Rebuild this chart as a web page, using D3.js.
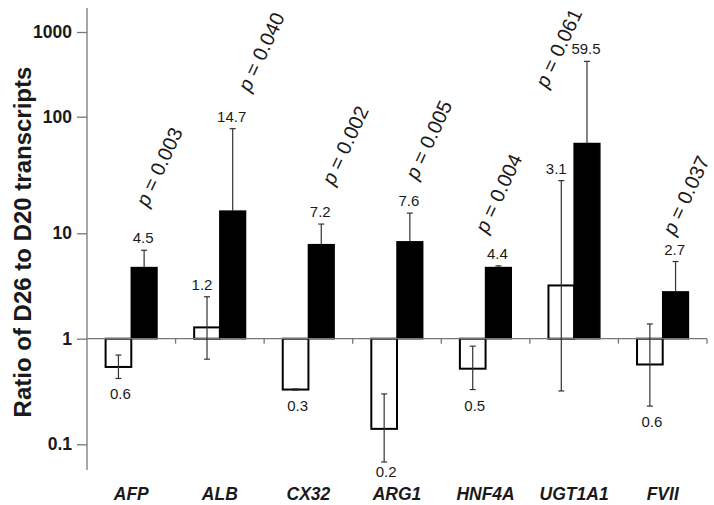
<!DOCTYPE html>
<html><head><meta charset="utf-8">
<script src="https://cdn.jsdelivr.net/npm/d3@7"></script>
<style>body{margin:0;background:#fff}svg{display:block}</style>
</head><body><svg id="c" width="714" height="505"></svg>
<script>
// ---- data ----
const categories = ["AFP", "ALB", "CX32", "ARG1", "HNF4A", "UGT1A1", "FVII"];
const whiteValues = [0.54, 1.28, 0.33, 0.14, 0.52, 3.2, 0.57];
const whiteErrLow = [0.42, 0.64, 0.325, 0.068, 0.33, 0.32, 0.23];
const whiteErrHigh = [0.70, 2.5, 0.335, 0.30, 0.85, 28.3, 1.38];
const whiteLabels = ["0.6", "1.2", "0.3", "0.2", "0.5", "3.1", "0.6"];
const blackValues = [4.73, 15.5, 7.8, 8.3, 4.73, 58.9, 2.78];
const blackErrHigh = [6.9, 79, 12.0, 14.9, 4.91, 450, 5.4];
const blackLabels = ["4.5", "14.7", "7.2", "7.6", "4.4", "59.5", "2.7"];
const pValues = ["0.003", "0.040", "0.002", "0.005", "0.004", "0.061", "0.037"];
const yTicks = [0.1, 1, 10, 100, 1000];
const yTitle = "Ratio of D26 to D20 transcripts";

// ---- layout (not data) ----
const pLabelShift = [[3.6, -35.5], [17.1, -28.8], [12.4, -30.7], [7.4, -25.3], [-11.3, -24.7], [-39.8, 34.7], [-1, -18.3]];

const svg = d3.select("#c");
const left = 87, right = 707;
const x = d3.scaleBand().domain(categories).range([left, right]).paddingInner(0).paddingOuter(0);
// original axis has uneven decade spacing -> polylinear log scale
const y = d3.scaleLog().domain([0.1, 1, 10, 100, 1000]).range([444.3, 338.7, 233.3, 116.7, 32]);
const bw = x.bandwidth() * 0.29;
const cx = c => x(c) + x.bandwidth() / 2;
const base = y(1);

const rows = categories.map((c, i) => ({
  c, i, w: whiteValues[i], wl: whiteErrLow[i], wh: whiteErrHigh[i], wLab: whiteLabels[i],
  b: blackValues[i], bh: blackErrHigh[i], bLab: blackLabels[i], p: pValues[i]
}));

const font = "Arial, 'Liberation Sans', sans-serif";

// y axis
const yAxis = d3.axisLeft(y).tickValues(yTicks).tickSize(10).tickPadding(5).tickFormat(d => String(d));
const gy = svg.append("g").attr("transform", `translate(${left},0)`).call(yAxis);
gy.select(".domain").remove();
gy.selectAll(".tick line").attr("stroke", "#777").attr("stroke-width", 1.3);
gy.selectAll(".tick text").attr("font-family", font)
  .attr("font-size", 17.5).attr("font-weight", "bold").attr("fill", "#1a1a1a");
svg.append("line").attr("x1", left).attr("x2", left).attr("y1", 8).attr("y2", 470)
  .attr("stroke", "#777").attr("stroke-width", 1.3);

// bars
const g = svg.append("g");
g.selectAll("rect.white").data(rows).join("rect").attr("class", "white")
  .attr("x", d => cx(d.c) - bw).attr("width", bw)
  .attr("y", d => Math.min(y(d.w), base)).attr("height", d => Math.abs(y(d.w) - base))
  .attr("fill", "#fff").attr("stroke", "#000").attr("stroke-width", 2);
g.selectAll("rect.black").data(rows).join("rect").attr("class", "black")
  .attr("x", d => cx(d.c)).attr("width", bw)
  .attr("y", d => Math.min(y(d.b), base)).attr("height", d => Math.abs(y(d.b) - base))
  .attr("fill", "#000").attr("stroke", "#000").attr("stroke-width", 1.5);

// x axis
svg.append("line").attr("x1", left).attr("x2", right).attr("y1", base).attr("y2", base)
  .attr("stroke", "#777").attr("stroke-width", 1.3);
svg.append("g").selectAll("line").data(categories).join("line")
  .attr("x1", c => x(c) + x.bandwidth()).attr("x2", c => x(c) + x.bandwidth())
  .attr("y1", base).attr("y2", base + 5).attr("stroke", "#777").attr("stroke-width", 1.3);

// error bars
const cap = 3;
const eb = svg.append("g").attr("stroke", "#333").attr("stroke-width", 1.2);
rows.forEach(d => {
  const wx = cx(d.c) - bw / 2;
  eb.append("line").attr("x1", wx).attr("x2", wx).attr("y1", y(d.wl)).attr("y2", y(d.wh));
  eb.append("line").attr("x1", wx - cap).attr("x2", wx + cap).attr("y1", y(d.wl)).attr("y2", y(d.wl));
  eb.append("line").attr("x1", wx - cap).attr("x2", wx + cap).attr("y1", y(d.wh)).attr("y2", y(d.wh));
  const bx = cx(d.c) + bw / 2;
  eb.append("line").attr("x1", bx).attr("x2", bx).attr("y1", y(d.b)).attr("y2", y(d.bh));
  eb.append("line").attr("x1", bx - cap).attr("x2", bx + cap).attr("y1", y(d.bh)).attr("y2", y(d.bh));
});

// value labels
const lab = svg.append("g").attr("font-family", font).attr("font-size", 15).attr("fill", "#1a1a1a").attr("text-anchor", "middle");
rows.forEach(d => {
  const wx = cx(d.c) - bw / 2;
  if (d.w < 1) {
    lab.append("text").attr("x", wx + 2).attr("y", Math.min(y(d.wl) + 21, 477)).text(d.wLab);
  } else {
    lab.append("text").attr("x", wx - 5).attr("y", y(d.wh) - 7).text(d.wLab);
  }
  const bx = cx(d.c) + bw / 2;
  lab.append("text").attr("x", bx - 1).attr("y", y(d.bh) - 7).text(d.bLab);
});

// p labels
const pl = svg.append("g").attr("font-family", font).attr("font-size", 20).attr("fill", "#1a1a1a");
rows.forEach(d => {
  const bx = cx(d.c) + bw / 2;
  const ax = bx + pLabelShift[d.i][0], ay = y(d.bh) - 7 + pLabelShift[d.i][1];
  const t = pl.append("text").attr("transform", `translate(${ax},${ay}) rotate(-65)`);
  t.append("tspan").attr("font-style", "italic").text("p");
  t.append("tspan").text(" = " + d.p);
});

// category labels
svg.append("g").selectAll("text").data(categories).join("text")
  .attr("x", c => cx(c)).attr("y", 500).attr("text-anchor", "middle")
  .attr("font-family", font).attr("font-size", 17.5).attr("font-weight", "bold").attr("font-style", "italic")
  .attr("fill", "#1a1a1a").text(c => c);

// y title
svg.append("text").attr("transform", "translate(31,242) rotate(-90)").attr("text-anchor", "middle")
  .attr("font-family", font).attr("font-size", 24).attr("font-weight", "bold").attr("fill", "#1a1a1a")
  .text(yTitle);
</script></body></html>
